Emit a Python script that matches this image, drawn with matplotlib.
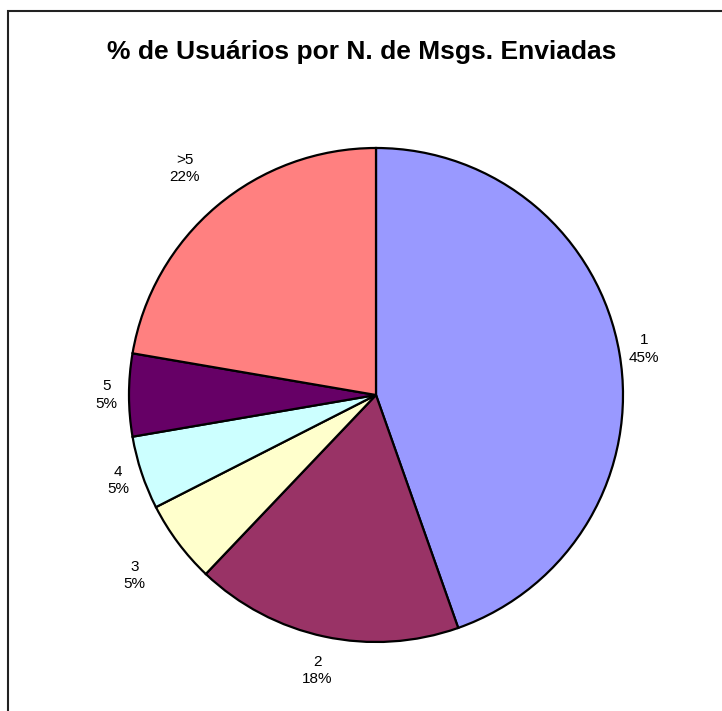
import numpy as np
import matplotlib
matplotlib.use("Agg")
import matplotlib.pyplot as plt
from matplotlib.patches import Rectangle

plt.rcParams['font.family'] = ['Liberation Sans', 'DejaVu Sans']

categories = ['1', '2', '3', '4', '5', '>5']
values = [44.6, 17.5, 5.4, 4.8, 5.4, 22.3]
colors = ['#9999FF', '#993366', '#FFFFCC', '#CCFFFF', '#660066', '#FF8080']
label_dist = [1.10, 1.14, 1.22, 1.10, 1.09, 1.20]

W, H = 722, 711
fig = plt.figure(figsize=(W / 100, H / 100), dpi=100)

# outer chart frame (runs off the right/bottom edge)
fig.patches.append(Rectangle((8 / W, -0.1), 1.2, (H - 11) / H + 0.1, transform=fig.transFigure,
                             fill=False, edgecolor='#222222', linewidth=1.5))

cx, cy, r = 376, 395, 247
ax = fig.add_axes([(cx - r) / W, (H - cy - r) / H, 2 * r / W, 2 * r / H])
wedges, _ = ax.pie(values, colors=colors, startangle=90, counterclock=False,
                   wedgeprops=dict(edgecolor='black', linewidth=1.6))
ax.set_xlim(-1, 1)
ax.set_ylim(-1, 1)
ax.set_aspect('auto')
ax.axis('off')

for w, cat, v, d in zip(wedges, categories, values, label_dist):
    ang = np.deg2rad((w.theta1 + w.theta2) / 2)
    ax.text(d * np.cos(ang), d * np.sin(ang), f"{cat}\n{v:.0f}%", ha='center', va='center',
            fontsize=11, linespacing=1.3, clip_on=False)

fig.text(362 / W, 1 - 52 / H, '% de Usuários por N. de Msgs. Enviadas', ha='center', va='center',
         fontsize=19, fontweight='bold')

fig.savefig('out.png', dpi=100, facecolor='white')
